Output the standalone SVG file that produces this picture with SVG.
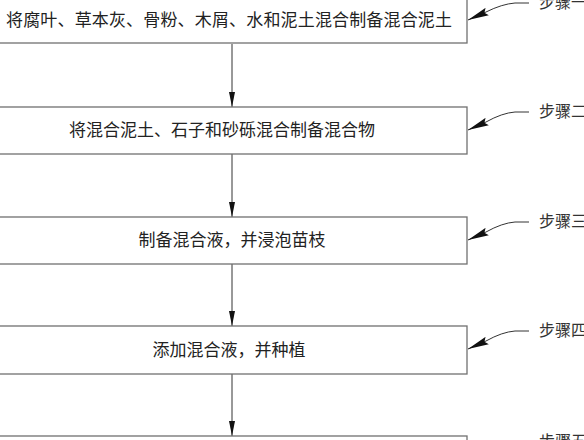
<svg xmlns="http://www.w3.org/2000/svg" width="584" height="440" viewBox="0 0 584 440">
<defs>
<style>
.box{fill:#fff;stroke:#707070;stroke-width:1.3}
.t{font-family:"Noto Sans CJK SC","Noto Sans",sans-serif;font-size:17px;fill:#222;text-anchor:middle}
.lbl{font-family:"Noto Sans CJK SC","Noto Sans",sans-serif;font-size:16px;fill:#333}
.ln{fill:none;stroke:#333;stroke-width:1}
</style>
<marker id="ah" markerWidth="16" markerHeight="8" refX="15" refY="4" orient="auto" markerUnits="userSpaceOnUse">
<path d="M0,1 L15,4 L0,7 Z" fill="#111"/>
</marker>
<marker id="lh" markerWidth="22" markerHeight="9" refX="21" refY="4.5" orient="auto" markerUnits="userSpaceOnUse">
<path d="M0,0.5 L21,4.5 L0,8.5 L3,4.5 Z" fill="#111"/>
</marker>
</defs>
<rect width="584" height="440" fill="#fff"/>
<g id="connectors">
<line class="ln" x1="232" y1="44" x2="232" y2="107" marker-end="url(#ah)"/>
<line class="ln" x1="232" y1="154" x2="232" y2="217" marker-end="url(#ah)"/>
<line class="ln" x1="232" y1="264" x2="232" y2="326" marker-end="url(#ah)"/>
<line class="ln" x1="232" y1="374" x2="232" y2="436" marker-end="url(#ah)"/>
<path class="ln" d="M529,3 L515,3 Q502,4 486,12 L468,20" marker-end="url(#lh)"/>
<path class="ln" d="M529,112 L515,112 Q502,113 486,122 L468,130" marker-end="url(#lh)"/>
<path class="ln" d="M529,222 L515,222 Q502,223 486,232 L468,240" marker-end="url(#lh)"/>
<path class="ln" d="M529,331 L515,331 Q502,332 486,341 L468,349" marker-end="url(#lh)"/>
<path class="ln" d="M529,441 L515,441 Q502,442 486,451 L468,459" marker-end="url(#lh)"/>
</g>
<g id="step1">
<rect class="box" x="-3" y="-3" width="470" height="46"/>
<text class="t" x="229" y="26" textLength="446" lengthAdjust="spacing">将腐叶、草本灰、骨粉、木屑、水和泥土混合制备混合泥土</text>
<text class="lbl" x="539" y="8">步骤一</text>
</g>
<g id="step2">
<rect class="box" x="-3" y="107" width="470" height="47"/>
<text class="t" x="222" y="136">将混合泥土、石子和砂砾混合制备混合物</text>
<text class="lbl" x="539" y="117">步骤二</text>
</g>
<g id="step3">
<rect class="box" x="-3" y="217" width="470" height="47"/>
<text class="t" x="232" y="246">制备混合液，并浸泡苗枝</text>
<text class="lbl" x="539" y="227">步骤三</text>
</g>
<g id="step4">
<rect class="box" x="-3" y="326" width="470" height="48"/>
<text class="t" x="229" y="356">添加混合液，并种植</text>
<text class="lbl" x="539" y="336">步骤四</text>
</g>
<g id="step5">
<rect class="box" x="-3" y="436" width="470" height="47"/>
<text class="lbl" x="539" y="447">步骤五</text>
</g>
</svg>
